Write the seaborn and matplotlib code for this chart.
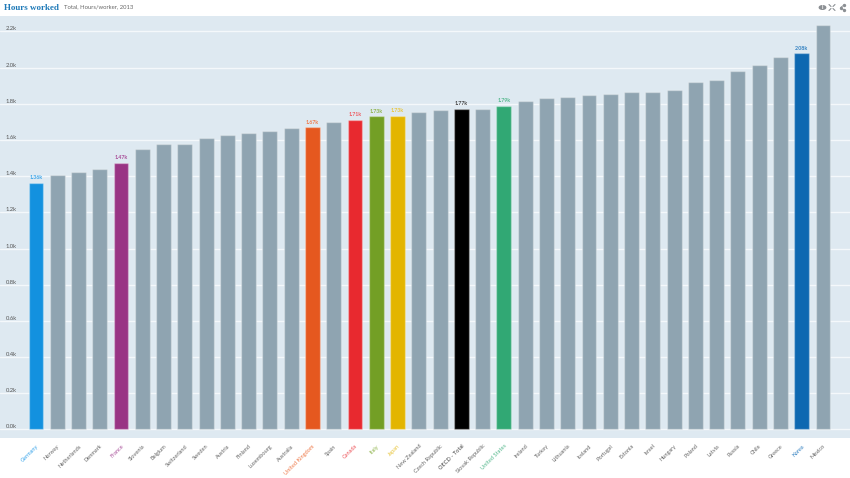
import seaborn as sns
import matplotlib.pyplot as plt
from matplotlib.patches import Circle
from matplotlib.lines import Line2D
import pandas as pd

countries = ['Germany', 'Norway', 'Netherlands', 'Denmark', 'France', 'Slovenia', 'Belgium',
             'Switzerland', 'Sweden', 'Austria', 'Finland', 'Luxembourg', 'Australia',
             'United Kingdom', 'Spain', 'Canada', 'Italy', 'Japan', 'New Zealand',
             'Czech Republic', 'OECD - Total', 'Slovak Republic', 'United States', 'Ireland',
             'Turkey', 'Lithuania', 'Iceland', 'Portugal', 'Estonia', 'Israel', 'Hungary',
             'Poland', 'Latvia', 'Russia', 'Chile', 'Greece', 'Korea', 'Mexico']
hours = [1363, 1405, 1421, 1438, 1473, 1550, 1576, 1576, 1609, 1629, 1640, 1649, 1664,
         1669, 1699, 1710, 1730, 1734, 1752, 1763, 1770, 1772, 1790, 1815, 1832, 1840,
         1846, 1852, 1864, 1864, 1875, 1918, 1929, 1980, 2016, 2058, 2079, 2237]
y_ticks = [0, 200, 400, 600, 800, 1000, 1200, 1400, 1600, 1800, 2000, 2200]
y_labels = ['0.0k', '0.2k', '0.4k', '0.6k', '0.8k', '1.0k', '1.2k', '1.4k', '1.6k', '1.8k', '2.0k', '2.2k']

grey = '#8fa4b1'
highlight = {'Germany': '#1391df', 'France': '#993484', 'United Kingdom': '#e5581f',
             'Canada': '#e8292f', 'Italy': '#739f25', 'Japan': '#e3b500',
             'OECD - Total': '#000000', 'United States': '#31a874', 'Korea': '#0d68b1'}
label_colors = {'Germany': '#3aa5ea', 'France': '#a9509a', 'United Kingdom': '#ee7a4a',
                'Canada': '#ee5a60', 'Italy': '#8eb34a', 'Japan': '#e8c53a',
                'OECD - Total': '#444444', 'United States': '#55b88d', 'Korea': '#2f7fc0'}

sns.set_theme(style='white')
plt.rcParams['font.family'] = ['Lato', 'DejaVu Sans']

df = pd.DataFrame({'country': countries, 'hours': hours})
palette = {c: highlight.get(c, grey) for c in countries}

fig = plt.figure(figsize=(8.5, 4.78), dpi=100)
ax = fig.add_axes([0, 1 - 438 / 478, 1, 422 / 478])
ax.set_facecolor('#dee9f1')
ax.set_axisbelow(True)

sns.barplot(data=df, x='country', y='hours', hue='country', palette=palette, legend=False,
            dodge=False, width=0.7, saturation=1, edgecolor=(1, 1, 1, 0.3), linewidth=1, ax=ax)

ax.set_xlim(-1.69, 38.27)
ax.set_ylim(-47, 2285)
ax.set_xlabel('')
ax.set_ylabel('')
ax.grid(axis='y', color='#f4f8fb', linewidth=1)
ax.grid(axis='x', visible=False)
sns.despine(ax=ax, left=True, bottom=True, top=True, right=True)

ax.set_yticks(y_ticks)
ax.set_yticklabels(y_labels)
ax.tick_params(axis='y', length=0, pad=-4.3, labelsize=4.2, labelcolor='#555555')
for lab in ax.get_yticklabels():
    lab.set_ha('left')
    lab.set_va('bottom')

ax.set_xticks(range(len(countries)))
ax.set_xticklabels(countries)
ax.tick_params(axis='x', length=0, pad=4, labelsize=4.1)
for lab, c in zip(ax.get_xticklabels(), countries):
    lab.set_rotation(45)
    lab.set_ha('right')
    lab.set_va('top')
    lab.set_rotation_mode('anchor')
    lab.set_color(label_colors.get(c, '#666666'))

# Valeurs au-dessus des barres en couleur
for i, (c, v) in enumerate(zip(countries, hours)):
    if c in highlight:
        ax.annotate(f'{v / 1000:.2f}k', (i, v), xytext=(0, 2), textcoords='offset points',
                    ha='center', va='bottom', fontsize=3.8, fontweight='bold',
                    color=label_colors[c])

fig.text(4 / 850, 1 - 8.5 / 478, 'Hours worked', family='Liberation Serif', fontsize=6.5,
         fontweight='bold', color='#1f7ab8', va='center', ha='left')
fig.text(64 / 850, 1 - 7 / 478, 'Total, Hours/worker, 2013', fontsize=4.2,
         color='#666666', va='center', ha='left')

# Petites icônes en haut à droite
icon = '#8b8f93'
fig.add_artist(Circle((822.5 / 850, 1 - 7.5 / 478), 3.2 / 850, color=icon, transform=fig.transFigure))
fig.text(822.5 / 850, 1 - 7.5 / 478, 'i', fontsize=4, color='white', ha='center', va='center', fontweight='bold')
for sx in (-1, 1):
    for sy in (-1, 1):
        x0, y0 = 832 + sx * 3, 7.5 + sy * 3
        fig.add_artist(Line2D([x0 / 850, (x0 - sx * 2) / 850], [1 - y0 / 478, 1 - (y0 - sy * 2) / 478],
                              color=icon, lw=0.8))
fig.add_artist(Line2D([844 / 850, 840.5 / 850, 844 / 850],
                      [1 - 5 / 478, 1 - 7.5 / 478, 1 - 10 / 478],
                      color=icon, lw=0.6, marker='o', markersize=1.4))

fig.savefig('out.png', dpi=100)
